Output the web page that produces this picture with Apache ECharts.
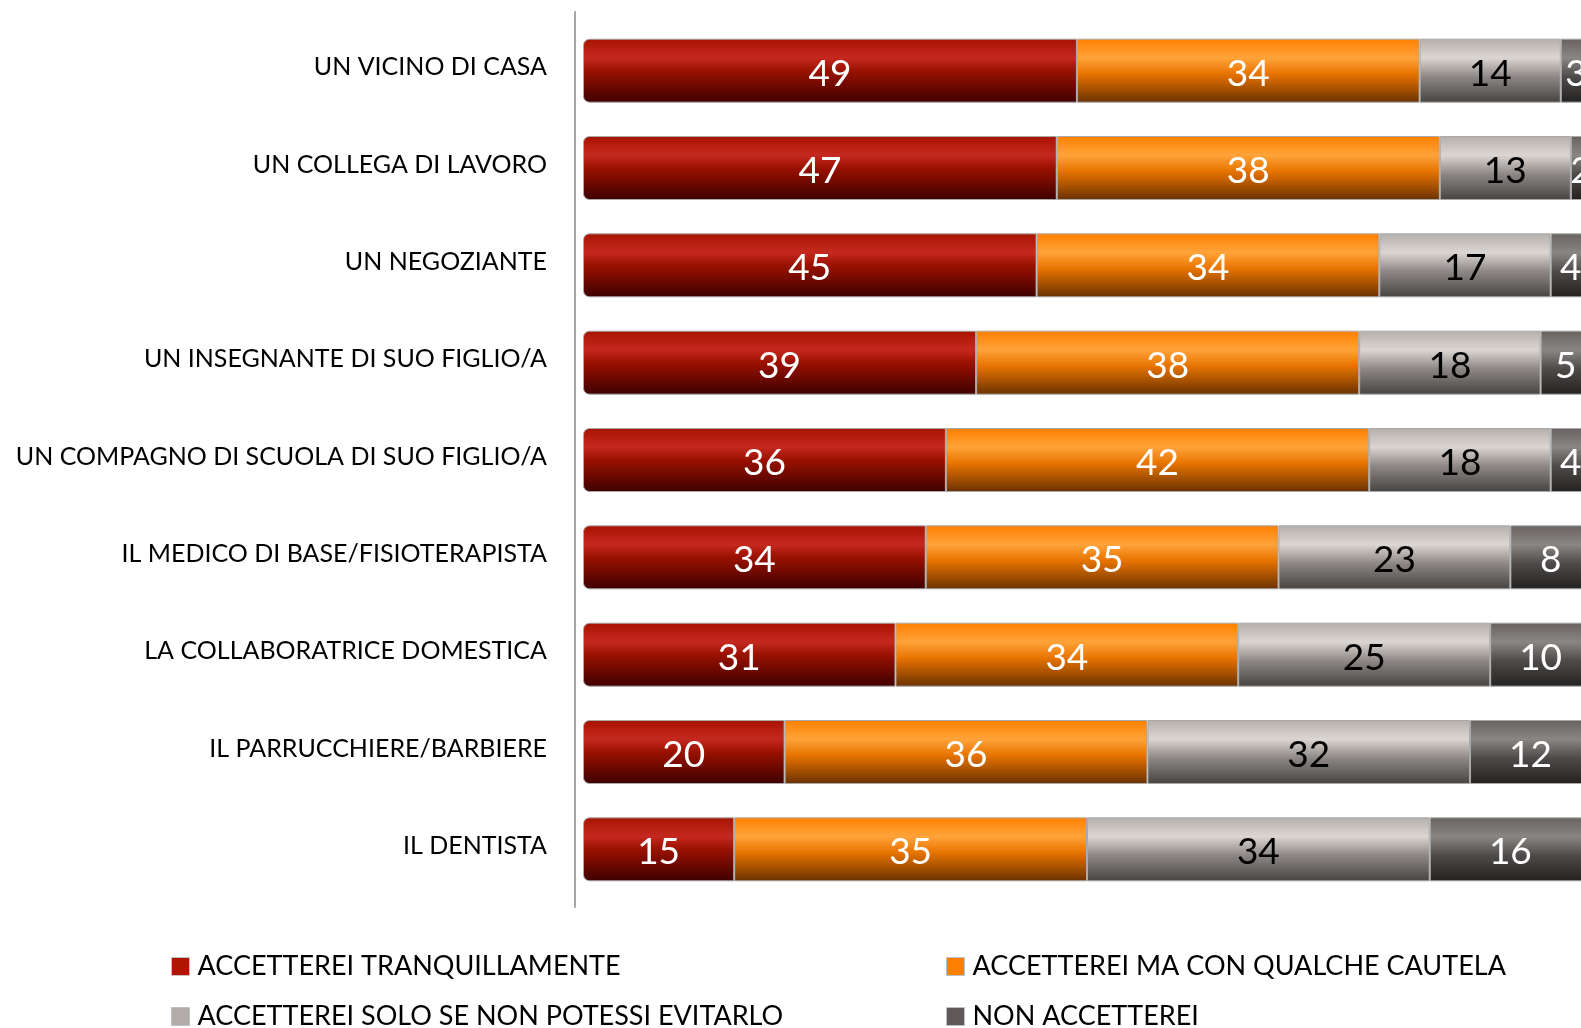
<!DOCTYPE html>
<html lang="it">
<head>
    <meta charset="UTF-8">
    <title>Accetterei</title>
    <style>
        html, body { margin: 0; padding: 0; background: #fff; }
    </style>
</head>
<body>
<div id="main" style="width:1581px; height:1028px"></div>

<script src="https://cdn.jsdelivr.net/npm/echarts@6/dist/echarts.min.js"></script>
<script>
    // dati
    var categorie = [
        'UN VICINO DI CASA',
        'UN COLLEGA DI LAVORO',
        'UN NEGOZIANTE',
        'UN INSEGNANTE DI SUO FIGLIO/A',
        'UN COMPAGNO DI SCUOLA DI SUO FIGLIO/A',
        'IL MEDICO DI BASE/FISIOTERAPISTA',
        'LA COLLABORATRICE DOMESTICA',
        'IL PARRUCCHIERE/BARBIERE',
        'IL DENTISTA'
    ];
    var serieNomi = [
        'ACCETTEREI TRANQUILLAMENTE',
        'ACCETTEREI MA CON QUALCHE CAUTELA',
        'ACCETTEREI SOLO SE NON POTESSI EVITARLO',
        'NON ACCETTEREI'
    ];
    var tranquillamente = [49, 47, 45, 39, 36, 34, 31, 20, 15];
    var conCautela      = [34, 38, 34, 38, 42, 35, 34, 36, 35];
    var soloSeNon       = [14, 13, 17, 18, 18, 23, 25, 32, 34];
    var nonAccetterei   = [3, 2, 4, 5, 4, 8, 10, 12, 16];

    var FONT = 'Lato';

    function grad(stops) {
        return new echarts.graphic.LinearGradient(0, 0, 0, 1, stops.map(function (s) {
            return { offset: s[0], color: s[1] };
        }));
    }

    // colori "cilindro" come nell'originale
    var stili = [
        { fill: grad([[0, '#a81300'], [0.3, '#c5291f'], [0.5, '#9a1100'], [1, '#3e0000']]), legend: '#b01500', text: '#fff', radius: [6, 0, 0, 6] },
        { fill: grad([[0, '#ff7f00'], [0.3, '#ffa33a'], [0.55, '#e87400'], [1, '#6a3100']]), legend: '#ff8000', text: '#fff', radius: 0 },
        { fill: grad([[0, '#b5afab'], [0.3, '#dcd6d2'], [0.6, '#8c8784'], [1, '#464341']]), legend: '#b3acaa', text: '#000', radius: 0 },
        { fill: grad([[0, '#67625f'], [0.3, '#8a8684'], [0.6, '#4d4a49'], [1, '#242221']]), legend: '#5f5a59', text: '#fff', radius: 0 }
    ];

    var valori = [tranquillamente, conCautela, soloSeNon, nonAccetterei];

    var myChart = echarts.init(document.getElementById('main'));

    var series = valori.map(function (v, i) {
        return {
            name: serieNomi[i],
            type: 'bar',
            stack: 'tot',
            barWidth: 64,
            data: v,
            itemStyle: {
                color: stili[i].fill,
                borderColor: '#a9a9a9',
                borderWidth: 1,
                borderRadius: stili[i].radius
            },
            label: {
                show: true,
                position: 'inside',
                offset: [0, 3],
                color: stili[i].text,
                fontFamily: FONT,
                fontSize: 37,
                formatter: '{c}'
            }
        };
    });

    function legendaCol(left, nomi) {
        return {
            orient: 'vertical',
            left: left, top: 953, height: 110,
            padding: 0,
            itemWidth: 18, itemHeight: 18, itemGap: 23,
            icon: 'rect',
            textStyle: { fontFamily: FONT, fontSize: 27, lineHeight: 24, color: '#000', padding: [0, 0, 0, 3] },
            data: nomi.map(function (i) {
                return { name: serieNomi[i], itemStyle: { color: stili[i].legend, borderColor: '#c0c0c0', borderWidth: 1 } };
            })
        };
    }

    var option = {
        animation: false,
        grid: [
            { left: 583, top: 22, width: 1008, height: 876, outerBoundsMode: 'none', containLabel: false },
            { left: 575, top: 12, width: 10, height: 895, outerBoundsMode: 'none', containLabel: false }
        ],
        legend: [legendaCol(171, [0, 2]), legendaCol(946, [1, 3])],
        xAxis: [
            { type: 'value', min: 0, max: 100, show: false, gridIndex: 0 },
            { type: 'value', show: false, gridIndex: 1 }
        ],
        yAxis: [
            {
                type: 'category',
                gridIndex: 0,
                inverse: true,
                data: categorie,
                axisLine: { show: false },
                axisTick: { show: false },
                axisLabel: {
                    margin: 36,
                    formatter: function (v) { return '{c|' + v + '}'; },
                    rich: {
                        c: {
                            fontFamily: FONT,
                            fontSize: 25,
                            color: '#000',
                            padding: [0, 0, 7, 0]
                        }
                    }
                }
            },
            {
                type: 'value',
                gridIndex: 1,
                min: 0, max: 1,
                axisLine: { show: true, lineStyle: { color: '#a6a6a6', width: 2 } },
                axisTick: { show: false },
                axisLabel: { show: false },
                splitLine: { show: false }
            }
        ],
        series: series
    };

    myChart.setOption(option);
</script>
</body>
</html>
